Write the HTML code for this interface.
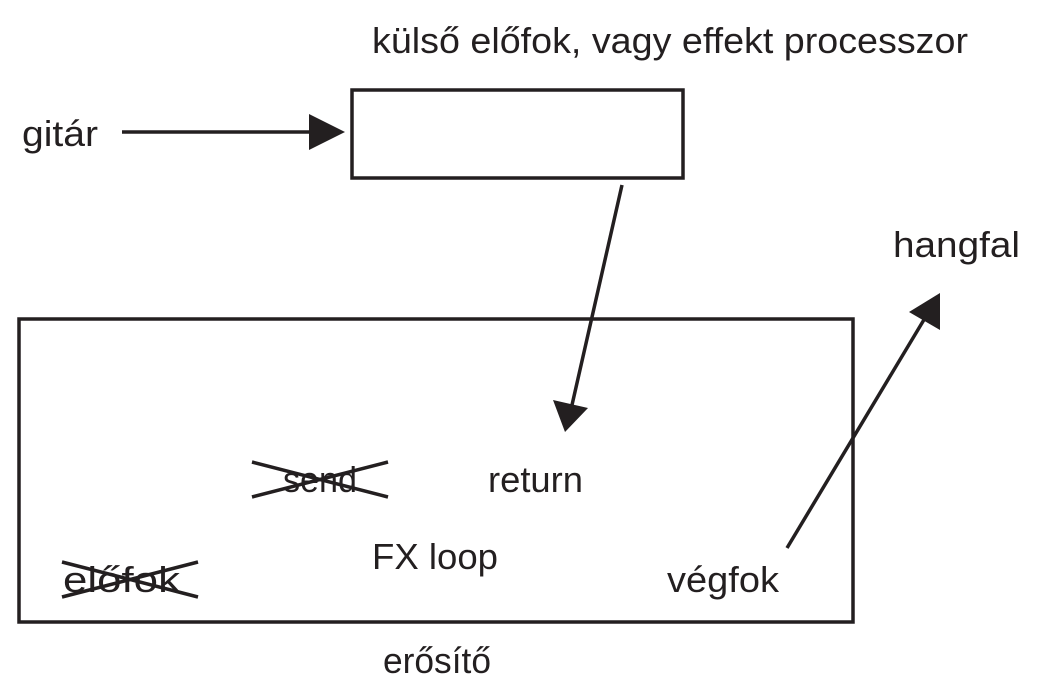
<!DOCTYPE html>
<html><head><meta charset="utf-8"><style>
html,body{margin:0;padding:0;background:#fff;}
svg{display:block}
text{font-family:"Liberation Sans",sans-serif;font-size:36px;fill:#231f20;}
</style></head><body>
<svg width="1038" height="681" viewBox="0 0 1038 681" xmlns="http://www.w3.org/2000/svg">
<g stroke="#231f20" stroke-width="3.5" fill="none">
<rect x="352" y="90" width="331" height="88"/>
<rect x="19" y="319" width="834" height="303"/>
<line x1="122" y1="132" x2="312" y2="132"/>
<line x1="622" y1="185" x2="572" y2="405"/>
<line x1="787" y1="548" x2="925" y2="318"/>
<line x1="252" y1="462" x2="388" y2="497"/>
<line x1="252" y1="497" x2="388" y2="462"/>
<line x1="62" y1="562" x2="198" y2="597"/>
<line x1="62" y1="597" x2="198" y2="562"/>
</g>
<g fill="#231f20">
<polygon points="345,132 309,114 309,150"/>
<polygon points="565,432 553,400 588,408"/>
<polygon points="940,293 909,312 940,330"/>
</g>
<text x="372" y="53" textLength="596" lengthAdjust="spacingAndGlyphs">külső előfok, vagy effekt processzor</text>
<text x="22" y="146" textLength="76" lengthAdjust="spacingAndGlyphs">gitár</text>
<text x="893" y="257" textLength="127" lengthAdjust="spacingAndGlyphs">hangfal</text>
<text x="283" y="492" textLength="74" lengthAdjust="spacingAndGlyphs">send</text>
<text x="488" y="492" textLength="95" lengthAdjust="spacingAndGlyphs">return</text>
<text x="372" y="569" textLength="126" lengthAdjust="spacingAndGlyphs">FX loop</text>
<text x="63" y="592" textLength="117" lengthAdjust="spacingAndGlyphs">előfok</text>
<text x="667" y="592" textLength="112" lengthAdjust="spacingAndGlyphs">végfok</text>
<text x="383" y="673" textLength="108" lengthAdjust="spacingAndGlyphs">erősítő</text>
</svg>
</body></html>
